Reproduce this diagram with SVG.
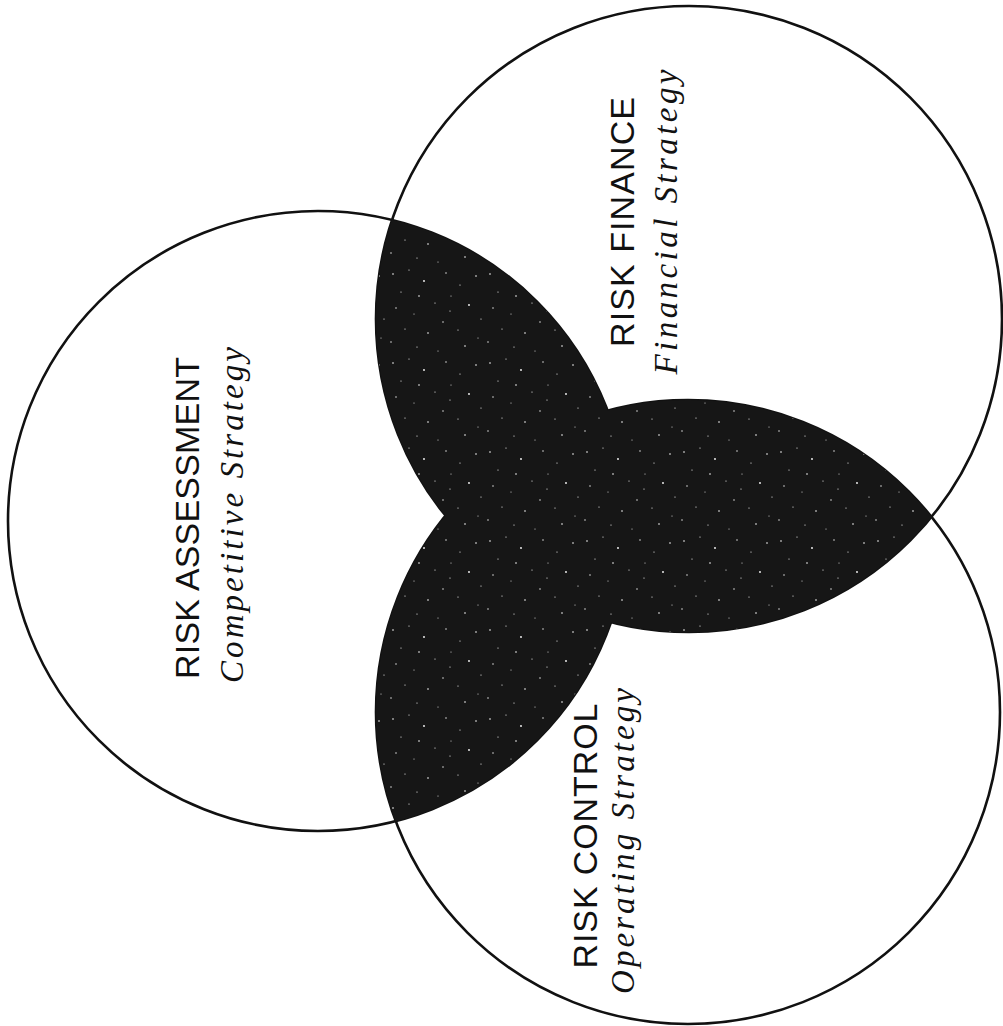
<svg xmlns="http://www.w3.org/2000/svg" width="1003" height="1026" viewBox="0 0 1003 1026">
<style>
.ring{fill:none;stroke:#111;stroke-width:2.6}
.cap{font-family:"Liberation Sans",Arial,sans-serif;font-size:34px;fill:#111}
.ital{font-family:"Liberation Serif","Times New Roman",serif;font-style:italic;font-size:33px;fill:#111}
.dark{fill:url(#speck)}
.sp{fill:#fff}
</style>
<defs>
<pattern id="speck" patternUnits="userSpaceOnUse" width="97" height="89">
<rect width="97" height="89" fill="#161616"/>
<circle class="sp" cx="5" cy="7" r="0.8"/>
<circle class="sp" cx="21" cy="3" r="0.6"/>
<circle class="sp" cx="36" cy="14" r="0.9"/>
<circle class="sp" cx="13" cy="25" r="0.6"/>
<circle class="sp" cx="31" cy="29" r="0.8"/>
<circle class="sp" cx="47" cy="36" r="0.6"/>
<circle class="sp" cx="8" cy="41" r="0.7"/>
<circle class="sp" cx="26" cy="47" r="0.5"/>
<circle class="sp" cx="58" cy="6" r="0.7"/>
<circle class="sp" cx="72" cy="18" r="0.6"/>
<circle class="sp" cx="88" cy="9" r="0.8"/>
<circle class="sp" cx="63" cy="29" r="0.5"/>
<circle class="sp" cx="81" cy="38" r="0.9"/>
<circle class="sp" cx="93" cy="52" r="0.6"/>
<circle class="sp" cx="55" cy="55" r="0.7"/>
<circle class="sp" cx="70" cy="63" r="0.6"/>
<circle class="sp" cx="40" cy="66" r="0.8"/>
<circle class="sp" cx="17" cy="62" r="0.6"/>
<circle class="sp" cx="3" cy="75" r="0.7"/>
<circle class="sp" cx="29" cy="80" r="0.6"/>
<circle class="sp" cx="50" cy="84" r="0.5"/>
<circle class="sp" cx="77" cy="79" r="0.8"/>
<circle class="sp" cx="90" cy="71" r="0.5"/>
<circle class="sp" cx="62" cy="44" r="0.6"/>
</pattern>
<clipPath id="clipA"><circle cx="318" cy="521" r="310"/></clipPath>
<clipPath id="clipB"><circle cx="689" cy="319" r="313"/></clipPath>
</defs>
<rect width="1003" height="1026" fill="#fff"/>
<g id="risk-assessment">
<circle class="ring" cx="318" cy="521" r="310"/>
<text class="cap" transform="translate(199,518) rotate(-90)" text-anchor="middle" textLength="322" lengthAdjust="spacing">RISK ASSESSMENT</text>
<text class="ital" transform="translate(243,515) rotate(-90)" text-anchor="middle" textLength="336" lengthAdjust="spacing">Competitive Strategy</text>
</g>
<g id="risk-finance">
<circle class="ring" cx="689" cy="319" r="313"/>
<text class="cap" transform="translate(634,222) rotate(-90)" text-anchor="middle" textLength="250" lengthAdjust="spacing">RISK FINANCE</text>
<text class="ital" transform="translate(677,222) rotate(-90)" text-anchor="middle" textLength="305" lengthAdjust="spacing">Financial Strategy</text>
</g>
<g id="risk-control">
<circle class="ring" cx="688" cy="712" r="312"/>
<text class="cap" transform="translate(597,836) rotate(-90)" text-anchor="middle" textLength="265" lengthAdjust="spacing">RISK CONTROL</text>
<text class="ital" transform="translate(634,841) rotate(-90)" text-anchor="middle" textLength="306" lengthAdjust="spacing">Operating Strategy</text>
</g>
<g id="overlaps">
<circle class="dark" cx="689" cy="319" r="313" clip-path="url(#clipA)"/>
<circle class="dark" cx="688" cy="712" r="312" clip-path="url(#clipA)"/>
<circle class="dark" cx="688" cy="712" r="312" clip-path="url(#clipB)"/>
</g>
</svg>
